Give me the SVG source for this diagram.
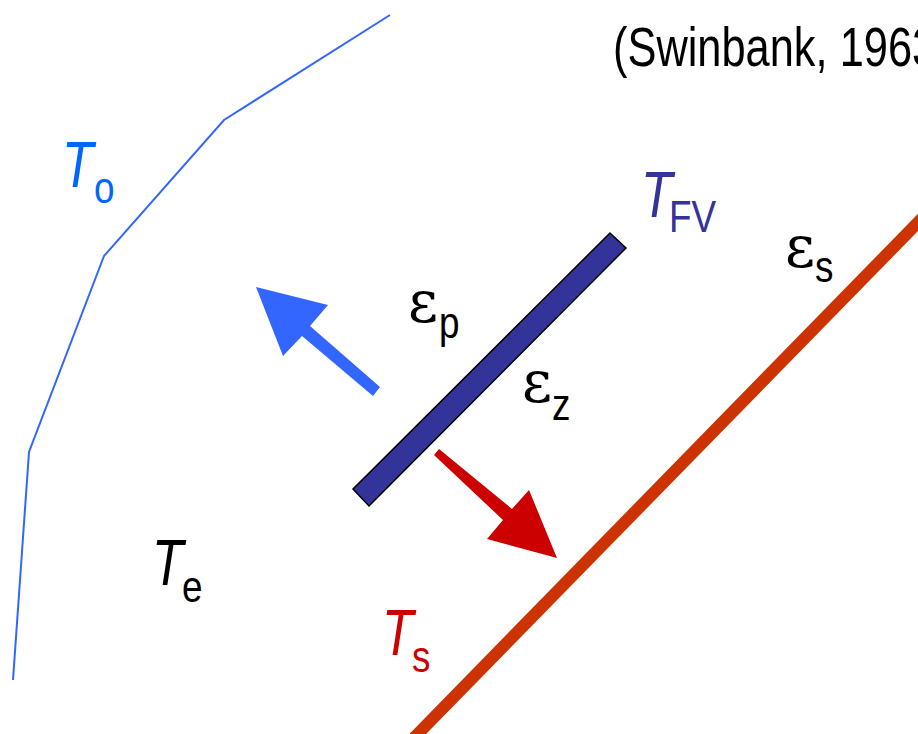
<svg xmlns="http://www.w3.org/2000/svg" width="918" height="734" viewBox="0 0 918 734">
<style>
.t{font-family:"Liberation Sans",Arial,sans-serif}
.it{font-style:italic}
.big{font-size:64px}
.sub{font-size:45px}
.eps{font-family:"DejaVu Serif","Liberation Serif",serif;font-size:58px}
</style>
<rect width="918" height="734" fill="#fff"/>
<g id="outer-boundary">
<polyline points="390,15 224,120 104,256 29,452 13,680" fill="none" stroke="#3366FF" stroke-width="2"/>
</g>
<g id="surface">
<line x1="405" y1="747" x2="935" y2="205" stroke="#CC3300" stroke-width="12"/>
</g>
<g id="plate">
<polygon points="610,233 626,248 369,506 353,489" fill="#333399" stroke="#000" stroke-width="1.5"/>
</g>
<g id="connectors">
<polygon points="256,287 328,305 310,326 380,387 373,396 302,336 283,356" fill="#3366FF"/>
<polygon points="439,449 512,509 529,490 557,558 487,539 503,520 434,455" fill="#CC0000"/>
</g>
<g id="labels">
<text class="t" font-size="56" transform="translate(613,66) scale(0.775,1)">(Swinbank, 1963)</text>
<g id="label-To" fill="#0066FF">
<text class="t it big" transform="translate(62,187) scale(0.8,1)">T</text>
<text class="t sub" transform="translate(94,203) scale(0.82,1)">o</text>
</g>
<g id="label-TFV" fill="#333399">
<text class="t it big" transform="translate(641,217) scale(0.8,1)">T</text>
<text class="t sub" transform="translate(669,232) scale(0.82,1)">FV</text>
</g>
<g id="label-es">
<text class="eps" transform="translate(785,267)">ε</text>
<text class="t sub" transform="translate(815,282) scale(0.82,1)">s</text>
</g>
<g id="label-ep">
<text class="eps" transform="translate(408,322)">ε</text>
<text class="t sub" transform="translate(439,338) scale(0.82,1)">p</text>
</g>
<g id="label-ez">
<text class="eps" transform="translate(522,402)">ε</text>
<text class="t sub" transform="translate(552,420) scale(0.82,1)">z</text>
</g>
<g id="label-Te">
<text class="t it big" transform="translate(152,585) scale(0.8,1)">T</text>
<text class="t sub" transform="translate(182,602) scale(0.82,1)">e</text>
</g>
<g id="label-Ts" fill="#CC0000">
<text class="t it big" transform="translate(382,655) scale(0.8,1)">T</text>
<text class="t sub" transform="translate(412,672) scale(0.82,1)">s</text>
</g>
</g>
</svg>
